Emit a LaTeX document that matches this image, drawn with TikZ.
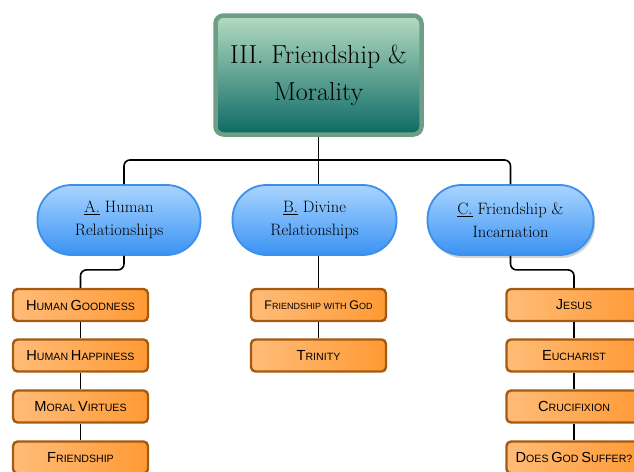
\documentclass[tikz,border=0pt]{standalone}
\usepackage{fontspec}
\newfontfamily\leaffont{Liberation Sans}
\usetikzlibrary{shadows}
\definecolor{rootborder}{HTML}{6E9E86}
\definecolor{roottop}{HTML}{B4DBC2}
\definecolor{rootbot}{HTML}{0C6A64}
\definecolor{pilltop}{HTML}{A9D5FF}
\definecolor{pillbot}{HTML}{3A92F4}
\definecolor{pillborder}{HTML}{3C8FEA}
\definecolor{leafleft}{HTML}{FFBC78}
\definecolor{leafright}{HTML}{FF9A35}
\definecolor{leafborder}{HTML}{A65A10}
\newcommand{\bigc}[1]{{\fontsize{14.6}{15}\selectfont #1}}
\newcommand{\smlc}[1]{{\fontsize{10.6}{12}\selectfont #1}}
\tikzset{
  rootbox/.style={draw=rootborder, line width=4.5pt, rounded corners=8pt,
    top color=roottop, bottom color=rootbot, minimum width=206pt, minimum height=119pt,
    align=center, font=\fontsize{26}{37}\selectfont, inner sep=0pt},
  pill/.style={draw=pillborder, line width=1.8pt, rounded corners=34pt,
    top color=pilltop, bottom color=pillbot, minimum height=70pt,
    align=center, font=\fontsize{16.5}{23}\selectfont, inner sep=0pt},
  leaf/.style={draw=leafborder, line width=2.4pt, rounded corners=4.5pt,
    left color=leafleft, right color=leafright, minimum width=135pt, minimum height=32pt,
    align=center, font=\leaffont, inner sep=0pt},
  conn/.style={draw=black, line width=1.6pt, rounded corners=6pt}
}
\begin{document}
\begin{tikzpicture}[x=1pt,y=1pt]
\useasboundingbox (0,0) rectangle (634,-471);
\fill[white] (0,0) rectangle (634,-471);
\coordinate (bus) at (318.5,-160);
% nodes
\node[rootbox] (root) at (318.5,-75) {III. Friendship \&\\Morality};
\node[pill, minimum width=163pt] (A) at (119,-220) {\underline{A.} Human\\Relationships};
\node[pill, minimum width=164pt] (B) at (314.5,-220) {\underline{B.} Divine\\Relationships};
\node[pill, minimum width=166pt, drop shadow={opacity=0.35, shadow xshift=1.5pt, shadow yshift=-3pt}] (C) at (510.5,-220) {\underline{C.} Friendship \&\\Incarnation};
% leaves
\node[leaf] (h1) at (80.5,-305) {\bigc{H}\smlc{UMAN} \bigc{G}\smlc{OODNESS}};
\node[leaf] (h2) at (80.5,-355.5) {\bigc{H}\smlc{UMAN} \bigc{H}\smlc{APPINESS}};
\node[leaf] (h3) at (80.5,-406.5) {\bigc{M}\smlc{ORAL} \bigc{V}\smlc{IRTUES}};
\node[leaf] (h4) at (80.5,-457.5) {\bigc{F}\smlc{RIENDSHIP}};
\node[leaf] (d1) at (318.5,-305) {{\fontsize{12.5}{14}\selectfont F}{\fontsize{9}{10}\selectfont RIENDSHIP WITH} {\fontsize{12.5}{14}\selectfont G}{\fontsize{9}{10}\selectfont OD}};
\node[leaf] (d2) at (318.5,-355.5) {\bigc{T}\smlc{RINITY}};
\node[leaf] (j1) at (574,-305) {\bigc{J}\smlc{ESUS}};
\node[leaf] (j2) at (574,-355.5) {\bigc{E}\smlc{UCHARIST}};
\node[leaf] (j3) at (574,-406.5) {\bigc{C}\smlc{RUCIFIXION}};
\node[leaf] (j4) at (574,-457.5) {\bigc{D}\smlc{OES} \bigc{G}\smlc{OD} \bigc{S}\smlc{UFFER?}};
% connectors
\draw[conn] (root.south) -- (bus);
\draw[conn] ([xshift=5pt]A.north) |- (bus) -| (C.north);
\draw[conn] (bus) -- (B.north -| bus);
\draw[conn] ([xshift=5pt]A.south) -- ++(0,-14) -| (h1.north);
\draw[conn] (B.south -| bus) -- (d1.north);
\draw[conn] (C.south) -- ++(0,-14) -| (j1.north);
\draw[conn] (h1.south) -- (h2.north);
\draw[conn] (h2.south) -- (h3.north);
\draw[conn] (h3.south) -- (h4.north);
\draw[conn] (d1.south) -- (d2.north);
\draw[conn] (j1.south) -- (j2.north);
\draw[conn] (j2.south) -- (j3.north);
\draw[conn] (j3.south) -- (j4.north);
\end{tikzpicture}
\end{document}
